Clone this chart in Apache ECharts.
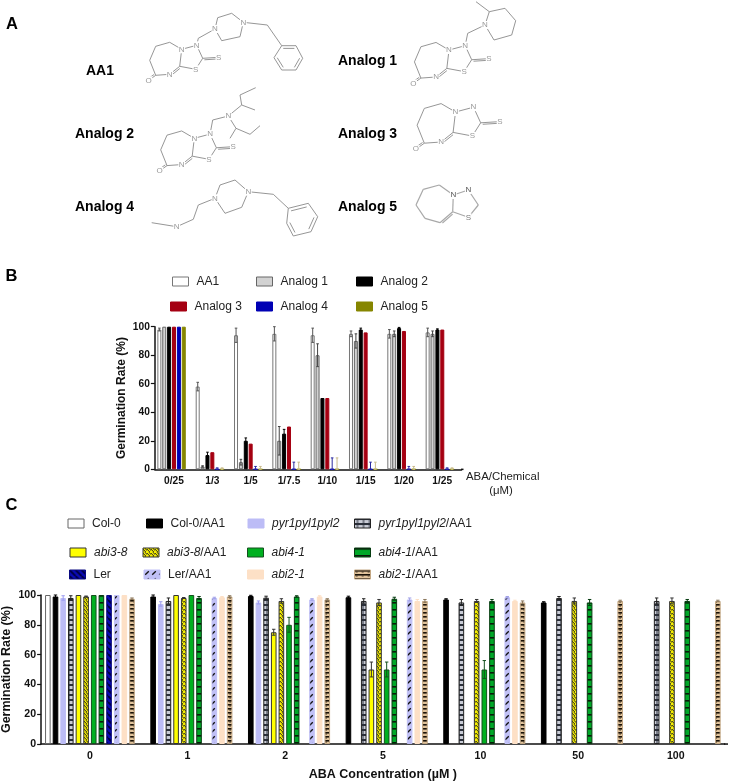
<!DOCTYPE html>
<html><head><meta charset="utf-8">
<style>html,body{margin:0;padding:0;background:#fff}#c{width:730px;height:781px}</style>
<script src="https://cdn.jsdelivr.net/npm/echarts@6/dist/echarts.min.js"></script>
</head><body><div id="c"></div>
<script>
// ---------- Panel B data ----------
const catsB = ['0/25','1/3','1/5','1/7.5','1/10','1/15','1/20','1/25'];
const namesB = ['AA1','Analog 1','Analog 2','Analog 3','Analog 4','Analog 5'];
const aa1Val  = [98,58,94,95,94,95,95,96];
const aa1Err  = [1,3,5,5,5,2,3,3];
const an1Val  = [100,2,5,20,80,90,95,95];
const an1Err  = [0,0.5,2,10,8,5,2,2];
const an2Val  = [100,10,20,25,50,98,99,98];
const an2Err  = [0,2,2,3,0,1,0.5,0.5];
const an3Val  = [100,12,18,30,50,96,97,98];
const an3Err  = [0,0,0,0,0,0,0,0];
const an4Val  = [100,0,0,0,0,0,0,0];
const an4Err  = [0,1,2,5,8,5,2,1];
const an5Val  = [100,0,0,0,0,0,0,0];
const an5Err  = [0,1,2,5,8,5,2,1];
// ---------- Panel C data ----------
const catsC = ['0','1','2','5','10','50','100'];
const col0Val   = [100,null,null,null,null,null,null];
const col0Err   = [0,0,0,0,0,0,0];
const col0aVal  = [99,99,99.3,98.5,97,95,null];
const col0aErr  = [1,1,0.5,0.7,0.5,0.5,0];
const pyrVal    = [98,94,95,null,null,null,null];
const pyrErr    = [1.5,1.5,1,0,0,0,0];
const pyraVal   = [98,96,98.2,96,95,98,96];
const pyraErr   = [1.5,2,1,1.5,2,1,2];
const abi3Val   = [100,100,75,50,null,null,null];
const abi3Err   = [0,0,2,5,0,0,0];
const abi3aVal  = [99,98,96,95,96,96,96];
const abi3aErr  = [0.3,0.3,1.5,2,1,2,2];
const abi4Val   = [100,100,80,50,50,null,null];
const abi4Err   = [0,0,5,5,6,0,0];
const abi4aVal  = [100,98,99,97.5,96,95,96];
const abi4aErr  = [0,1,0.5,1,1,2,1];
const lerVal    = [100,null,null,null,null,null,null];
const lerErr    = [0,0,0,0,0,0,0];
const leraVal   = [100,98,97,97,98.5,null,null];
const leraErr   = [0,0.5,0.5,1,0.5,0,0];
const abi2Val   = [100,98.5,99,96,96,null,null];
const abi2Err   = [0,0.5,0.5,1,0.5,0,0];
const abi2aVal  = [97.5,99,97,96,95,96,96];
const abi2aErr  = [0.5,0.5,0.5,1,1,0.5,0.5];
const ticksY = [0,20,40,60,80,100];

// ---------- pattern tiles ----------
function tile(w,h,draw){const c=document.createElement('canvas');c.width=w;c.height=h;const g=c.getContext('2d');draw(g);return {image:c,repeat:'repeat'};}
const pPyrA = tile(6,5,g=>{g.fillStyle='#2a2f3a';g.fillRect(0,0,6,5);g.fillStyle='#c9ccd6';g.fillRect(0,1,6,3);g.fillStyle='#2a2f3a';g.fillRect(2.5,1,1,3);});
const pAbi3A = tile(4,4,g=>{g.fillStyle='#f7f000';g.fillRect(0,0,4,4);g.strokeStyle='#222';g.lineWidth=1;g.beginPath();for(let i=-4;i<8;i+=2.8){g.moveTo(i,0);g.lineTo(i+4,4);}g.stroke();});
const pAbi4A = tile(6,7,g=>{g.fillStyle='#00a828';g.fillRect(0,0,6,7);g.fillStyle='#0a1a0a';g.fillRect(0,0,6,1.6);});
const pLer = tile(6,6,g=>{g.fillStyle='#0a0ab4';g.fillRect(0,0,6,6);g.strokeStyle='#00003c';g.lineWidth=1.8;g.beginPath();for(let i=-6;i<12;i+=6){g.moveTo(i,0);g.lineTo(i+6,6);}g.stroke();});
const pLerA = tile(7,7,g=>{g.fillStyle='#c0c0f6';g.fillRect(0,0,7,7);g.strokeStyle='#111';g.lineWidth=1.3;g.beginPath();g.moveTo(1.2,4.8);g.lineTo(4.8,1.2);g.stroke();});
const pAbi2A = tile(6,4,g=>{g.fillStyle='#e2c49c';g.fillRect(0,0,6,4);g.fillStyle='#1a1208';g.fillRect(0,0,6,1.6);g.fillRect(1.5,1.6,1.2,1);});

const stylesB = [
 {fill:'#fff',stroke:'#777',err:'#555'},{fill:'#d2d2d2',stroke:'#666',err:'#444'},
 {fill:'#000',stroke:'#000',err:'#000'},{fill:'#a50012',stroke:'#a50012',err:'#a50012'},
 {fill:'#0000b4',stroke:'#0000b4',err:'#2a2aa0'},{fill:'#868600',stroke:'#868600',err:'#c8b98a'}];
const valsB = [aa1Val,an1Val,an2Val,an3Val,an4Val,an5Val];
const errsB = [aa1Err,an1Err,an2Err,an3Err,an4Err,an5Err];
const namesC = ['Col-0','Col-0/AA1','pyr1pyl1pyl2','pyr1pyl1pyl2/AA1','abi3-8','abi3-8/AA1','abi4-1','abi4-1/AA1','Ler','Ler/AA1','abi2-1','abi2-1/AA1'];
const valsC = [col0Val,col0aVal,pyrVal,pyraVal,abi3Val,abi3aVal,abi4Val,abi4aVal,lerVal,leraVal,abi2Val,abi2aVal];
const errsC = [col0Err,col0aErr,pyrErr,pyraErr,abi3Err,abi3aErr,abi4Err,abi4aErr,lerErr,leraErr,abi2Err,abi2aErr];
const stylesC = [
 {fill:'#fff',stroke:'#666',err:'#444'},{fill:'#000',stroke:'#000',err:'#000'},
 {fill:'#bcbcf6',stroke:'#bcbcf6',err:'#9c9cf0'},{fill:pPyrA,stroke:'#222',err:'#222'},
 {fill:'#ffff00',stroke:'#333',err:'#333'},{fill:pAbi3A,stroke:'#333',err:'#333'},
 {fill:'#00b020',stroke:'#14501e',err:'#14501e'},{fill:pAbi4A,stroke:'#063c10',err:'#063c10'},
 {fill:pLer,stroke:'#0a0a80',err:'#0a0a80'},{fill:pLerA,stroke:'#c0c0f6',err:'#a0a0e8'},
 {fill:'#fde0c6',stroke:'#fde0c6',err:'#fde0c6'},{fill:pAbi2A,stroke:'#c4a884',err:'#8a765a'}];

const FONT='"Liberation Sans",Arial,sans-serif';
const series=[];
function addGroup(names,vals,errs,styles,axis,barW,gapPct,spacing,slots,capW){
  names.forEach((nm,i)=>{
    series.push({name:nm,type:'bar',xAxisIndex:axis,yAxisIndex:axis,barWidth:barW,barGap:gapPct,
      data:vals[i],itemStyle:{color:styles[i].fill,borderColor:styles[i].stroke,borderWidth:1},silent:true,z:2,animation:false});
  });
  names.forEach((nm,i)=>{
    const off=(i-(slots-1)/2)*spacing;
    const rows=vals[i].map((v,k)=>[k,v==null?0:v,errs[i][k]]).filter((r,k)=>vals[i][k]!=null&&errs[i][k]>0);
    series.push({type:'custom',xAxisIndex:axis,yAxisIndex:axis,clip:false,silent:true,z:3,animation:false,
      data:rows,encode:{x:0,y:1},
      renderItem:function(p,api){
        const c=api.coord([api.value(0),api.value(1)]);
        const hi=api.coord([api.value(0),api.value(1)+api.value(2)]);
        const lo=api.coord([api.value(0),Math.max(0,api.value(1)-api.value(2))]);
        const x=c[0]+off, st={stroke:styles[i].err,lineWidth:1,fill:null};
        return {type:'group',children:[
          {type:'line',shape:{x1:x,y1:lo[1],x2:x,y2:hi[1]},style:st},
          {type:'line',shape:{x1:x-capW/2,y1:hi[1],x2:x+capW/2,y2:hi[1]},style:st},
          {type:'line',shape:{x1:x-capW/2,y1:lo[1],x2:x+capW/2,y2:lo[1]},style:st}]};
      }});
  });
}
addGroup(namesB,valsB,errsB,stylesB,0,4,'22%',4.87,7,2.6);
// empty trailing slot: bars of panel B sit left of each tick
series.push({type:'bar',xAxisIndex:0,yAxisIndex:0,barWidth:4,barGap:'22%',data:catsB.map(()=>null),silent:true});
addGroup(namesC,valsC,errsC,stylesC,1,5.6,'36.6%',7.65,12,3.4);

// ---------- legends ----------
const italicRich={i:{fontStyle:'italic',fontSize:12,fontFamily:FONT,color:'#222'},n:{fontSize:12,fontFamily:FONT,color:'#222'}};
function fmt(n){
  if(/^(pyr|abi)/.test(n)){const p=n.split('/');return '{i|'+p[0]+'}'+(p[1]?'{n|/'+p[1]+'}':'');}
  return '{n|'+n+'}';
}
const legendPos=[
 ['AA1',172,281],['Analog 1',256,281],['Analog 2',356,281],
 ['Analog 3',170,306],['Analog 4',256,306],['Analog 5',356,306],
 ['Col-0',67.5,523],['Col-0/AA1',146,523],['pyr1pyl1pyl2',247.5,523],['pyr1pyl1pyl2/AA1',354,523],
 ['abi3-8',69.5,552],['abi3-8/AA1',142.5,552],['abi4-1',247,552],['abi4-1/AA1',354,552],
 ['Ler',69,574],['Ler/AA1',143.5,574],['abi2-1',247,574],['abi2-1/AA1',354,574]];
const legends=legendPos.map(r=>({data:[r[0]],left:r[1],top:r[2]-5.5,padding:0,itemWidth:16,itemHeight:9,itemGap:0,
  selectedMode:false,icon:'rect',formatter:fmt,inactiveColor:'#222',itemStyle:{borderWidth:1},
  textStyle:{fontFamily:FONT,fontSize:12,color:'#222',padding:[0,0,0,3],rich:italicRich}}));

// ---------- panel A structures ----------
const g=[];
const GR='#8a8a8a';
function line(a,b,col,w){g.push({type:'line',silent:true,z:1,shape:{x1:a[0],y1:a[1],x2:b[0],y2:b[1]},style:{stroke:col||GR,lineWidth:w||0.9}});}
function dbl(a,b,off,col,w){
  line(a,b,col,w);const dx=b[0]-a[0],dy=b[1]-a[1],L=Math.hypot(dx,dy),nx=-dy/L*off,ny=dx/L*off;
  const s=[a[0]+nx+dx*.1,a[1]+ny+dy*.1],e=[b[0]+nx-dx*.1,b[1]+ny-dy*.1];line(s,e,col,w);
}
function path(pts,close,col,w){for(let i=0;i<pts.length-1;i++)line(pts[i],pts[i+1],col,w);if(close)line(pts[pts.length-1],pts[0],col,w);}
function atom(t,p,size,col){g.push({type:'text',silent:true,z:3,style:{text:t,x:p[0],y:p[1],fontFamily:FONT,fontSize:size||8,fill:col||'#999',align:'center',verticalAlign:'middle',backgroundColor:'#fff',padding:[0,0.5]}});}
function benzene(pts){path(pts,true);
  const cx=pts.reduce((s,p)=>s+p[0],0)/6,cy=pts.reduce((s,p)=>s+p[1],0)/6;
  [[0,1],[2,3],[4,5]].forEach(q=>{const a=pts[q[0]],b=pts[q[1]];const f=.78;
    line([cx+(a[0]-cx)*f,cy+(a[1]-cy)*f],[cx+(b[0]-cx)*f,cy+(b[1]-cy)*f]);});}
function core(nx,ny,s){
  const P=(x,y)=>[nx+x*s,ny+y*s];
  const N1=P(0,0),a=P(-12,-7),b=P(-26,-3),c=P(-32,11),CO=P(-26,26),N=P(-12,25),C8=P(-2,17),O=P(-33,31),S=P(14,20),Cs=P(21,9),St=P(37,8),N3=P(15,-4);
  path([N1,a,b,c,CO,N]);dbl(N,C8,1.8);line(C8,N1);line(C8,S);line(S,Cs);dbl(Cs,St,1.6);line(Cs,N3);line(N3,N1);dbl(CO,O,1.6);
  atom('N',N1);atom('N',N);atom('O',O);atom('S',S);atom('S',St);atom('N',N3);
  return N3;
}
// AA1
{ const n3=core(181.7,49.3,1);
  path([n3,[198.3,38.3],[215,29]]);
  path([[215,29],[217.7,17.7],[231.7,13.3],[243.3,22.3],[240,36.7],[221.7,40.7]],true);
  path([[243.3,22.3],[267.3,25],[281.7,45.7]]);
  benzene([[281.7,45.7],[296,45.7],[302.7,58.3],[296,70],[281.7,70],[274,57.7]]);
  atom('N',[215,29]);atom('N',[243.3,22.3]);
}
// Analog 1
{ const n3=core(449,50,1.08);
  path([n3,[467.7,33.3],[485,25]]);
  path([[485,25],[489.3,11.7],[505,8.3],[515.7,20.7],[511.7,35],[494,40]],true);
  line([489.3,11.7],[476,1.7]);atom('N',[485,25]);
}
// Analog 2
{ const n3=core(194.3,138.3,1.05);
  path([n3,[212.7,120],[228.3,116]]);
  path([[228.3,116],[241.7,105],[255,110]]);path([[241.7,105],[240,95],[255.7,87.7]]);
  path([[228.3,116],[236,128.3],[250,134.3],[260,125.7]]);line([236,128.3],[230,138.3]);
  atom('N',[228.3,116]);
}
// Analog 3
core(455.5,112,1.2);
// Analog 4
{ path([[151.7,222.7],[176.7,226.7],[193.3,219.3],[198.3,205],[215,198.3]]);
  path([[215,198.3],[220,185],[235,180],[248.3,191.7],[241.7,207.3],[225,213.3]],true);
  path([[248.3,191.7],[273.3,194.3],[288.3,208.3]]);
  benzene([[288.3,208.3],[308.3,203.3],[317.7,216.7],[311,231.7],[293.3,236],[286.7,223.3]]);
  atom('N',[176.7,226.7]);atom('N',[215,198.3]);atom('N',[248.3,191.7]);
}
// Analog 5
{ const c='#a8a8a8';
  path([[453.3,195],[439.3,185],[423.3,189.3],[416,205],[425,218.3],[440,222.7]],false,c,1.2);
  dbl([440,222.7],[452.7,211.7],1.8,c,1.2);line([452.7,211.7],[453.3,195],c,1.2);
  path([[453.3,195],[468.3,190],[478.3,205],[468.3,217.3],[452.7,211.7]],false,c,1.2);
  atom('N',[453.3,195],8,'#555');atom('N',[468.3,190],8,'#555');atom('S',[468.3,217.3],8,'#777');
}
// panel letters and labels
function label(t,x,y,sz,w){g.push({type:'text',silent:true,z:4,style:{text:t,x:x,y:y,fontFamily:FONT,fontSize:sz,fontWeight:w||'bold',fill:'#000',verticalAlign:'middle'}});}
label('A',6,24.5,16.5);label('B',5.5,276,16.5);label('C',5.5,505,16.5);
label('AA1',86,71,14);label('Analog 1',338,61,14);label('Analog 2',75,134,14);
label('Analog 3',338,134,14);label('Analog 4',75,207,14);label('Analog 5',338,207,14);
g.push({type:'text',silent:true,style:{text:'ABA/Chemical',x:466,y:477,fontFamily:FONT,fontSize:11.4,fill:'#222',verticalAlign:'middle'}});
g.push({type:'text',silent:true,style:{text:'(μM)',x:501,y:491,fontFamily:FONT,fontSize:11.4,fill:'#222',align:'center',verticalAlign:'middle'}});
// axis line run-outs past the last category
g.push({type:'rect',silent:true,shape:{x:461,y:468.6,width:2.5,height:1.5},style:{fill:'#111'}});
g.push({type:'rect',silent:true,shape:{x:724,y:743.3,width:4,height:1.5},style:{fill:'#111'}});

function xAx(idx,cats,margin,extra){return Object.assign({type:'category',gridIndex:idx,data:cats,
  axisLine:{lineStyle:{color:'#111',width:1.5}},axisTick:{alignWithLabel:true,length:4,lineStyle:{color:'#111',width:1.2}},
  axisLabel:{interval:0,fontFamily:FONT,fontWeight:'bold',fontSize:idx?10.6:10.2,color:'#111',margin:margin},splitLine:{show:false}},extra||{});}
function yAx(idx,gap,sz,lab){return {type:'value',gridIndex:idx,min:ticksY[0],max:ticksY[ticksY.length-1],interval:ticksY[1]-ticksY[0],
  name:'Germination Rate (%)',nameLocation:'middle',nameGap:gap,nameMoveOverlap:false,nameTextStyle:{fontFamily:FONT,fontWeight:'bold',fontSize:sz,color:'#111'},
  axisLine:{show:true,lineStyle:{color:'#111',width:1.5}},axisTick:{show:true,length:4,lineStyle:{color:'#111',width:1.2}},
  axisLabel:{fontFamily:FONT,fontWeight:'bold',fontSize:lab,color:'#111',margin:5},splitLine:{show:false}};}

const chart=echarts.init(document.getElementById('c'),null,{renderer:'canvas',width:730,height:781});
chart.setOption({
  animation:false,backgroundColor:'#fff',
  grid:[{left:154.85,top:326.7,width:306.6,height:142.6,outerBoundsMode:'none'},
        {left:41.1,top:595,width:683.5,height:149,outerBoundsMode:'none'}],
  xAxis:[xAx(0,catsB,7),xAx(1,catsC,7,{name:'ABA Concentration (µM )',nameLocation:'middle',nameGap:24,nameMoveOverlap:false,
    nameTextStyle:{fontFamily:FONT,fontWeight:'bold',fontSize:12.5,color:'#111'}})],
  yAxis:[yAx(0,27,12,10.2),yAx(1,28,12.5,10.6)],
  legend:legends,series:series,graphic:{elements:g}
});
</script></body></html>
